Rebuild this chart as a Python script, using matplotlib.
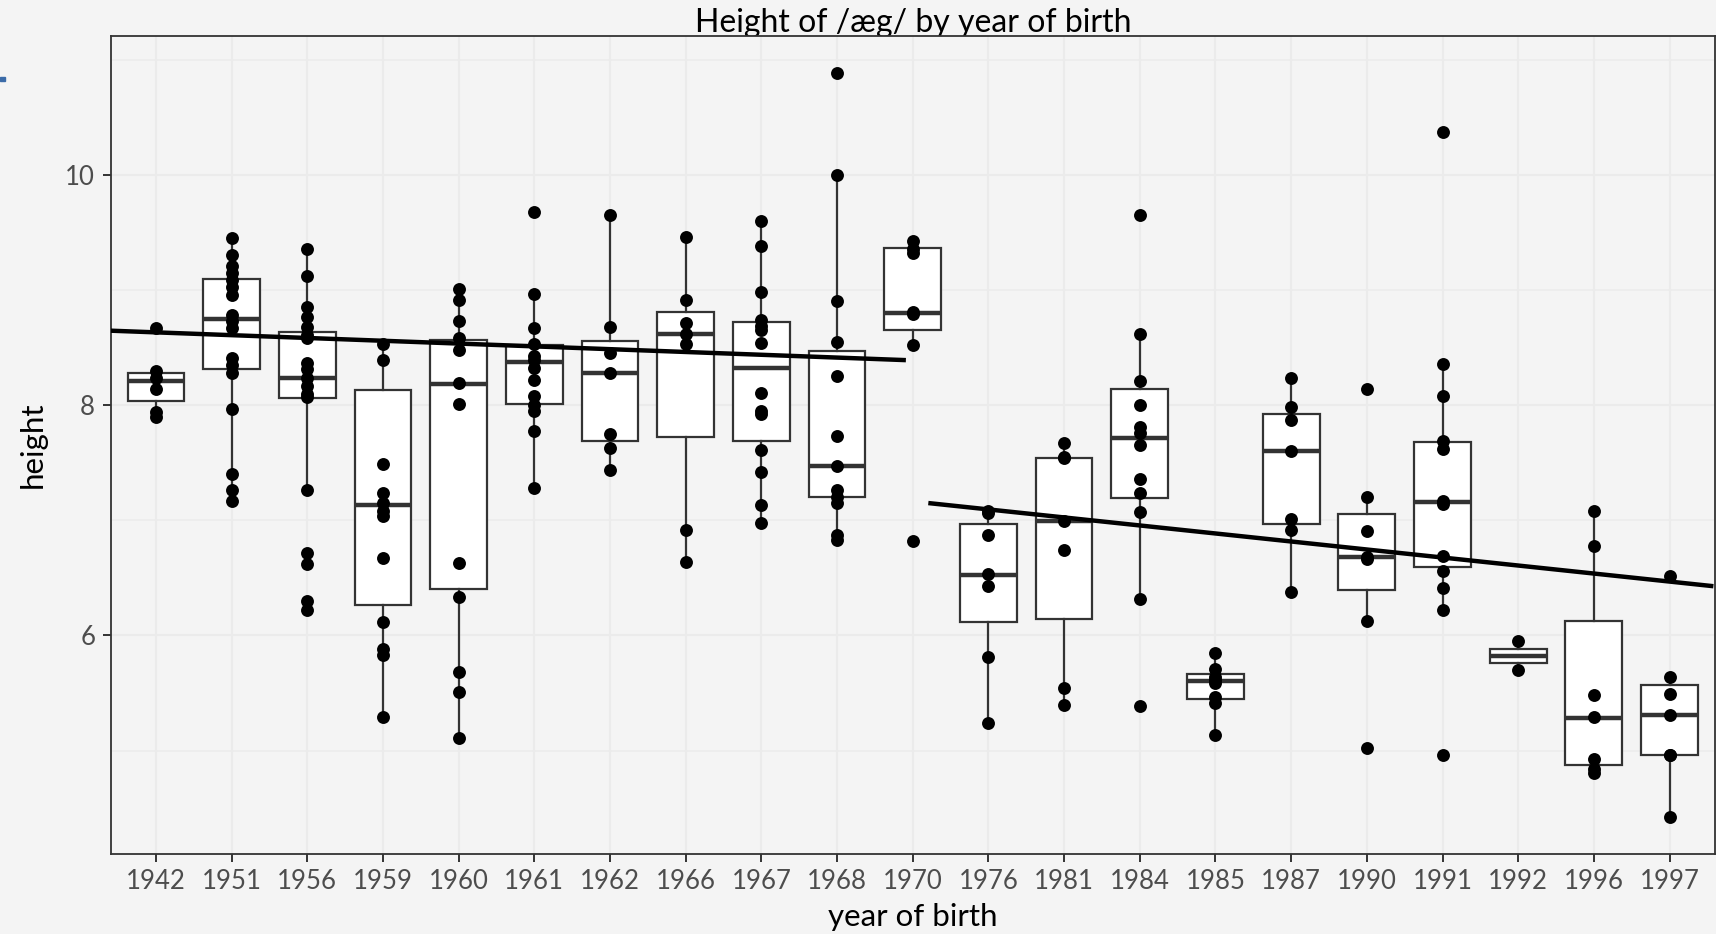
import matplotlib.pyplot as plt
from matplotlib.patches import Rectangle

plt.rcParams['font.family'] = ['Lato', 'DejaVu Sans']

# categories (x axis is discrete)
years = ["1942", "1951", "1956", "1959", "1960", "1961", "1962", "1966", "1967", "1968",
         "1970", "1976", "1981", "1984", "1985", "1987", "1990", "1991", "1992", "1996", "1997"]

# individual measurements per year of birth
h_1942 = [8.67, 8.30, 8.24, 8.14, 7.94, 7.90]
h_1951 = [9.45, 9.30, 9.21, 9.15, 9.09, 9.03, 8.96, 8.78, 8.73, 8.67, 8.41, 8.35, 8.28, 7.97, 7.40, 7.26, 7.17]
h_1956 = [9.36, 9.12, 8.85, 8.77, 8.68, 8.61, 8.58, 8.37, 8.31, 8.24, 8.17, 8.10, 8.07, 7.26, 6.72, 6.62, 6.30, 6.22]
h_1959 = [8.53, 8.39, 7.49, 7.24, 7.15, 7.08, 7.04, 6.67, 6.12, 5.88, 5.83, 5.29]
h_1960 = [9.01, 8.91, 8.73, 8.58, 8.48, 8.19, 8.01, 6.63, 6.33, 5.68, 5.51, 5.11]
h_1961 = [9.68, 8.965, 8.67, 8.53, 8.43, 8.39, 8.32, 8.22, 8.08, 8.00, 7.95, 7.78, 7.28]
h_1962 = [9.655, 8.68, 8.45, 8.28, 7.75, 7.63, 7.44]
h_1966 = [9.46, 8.91, 8.71, 8.62, 8.53, 6.92, 6.635]
h_1967 = [9.60, 9.38, 8.98, 8.74, 8.69, 8.65, 8.54, 8.11, 7.95, 7.92, 7.61, 7.42, 7.13, 6.975]
h_1968 = [10.886, 10.0, 8.906, 8.547, 8.25, 7.73, 7.47, 7.26, 7.20, 7.15, 6.875, 6.83]
h_1970 = [9.43, 9.36, 9.32, 8.81, 8.79, 8.52, 6.82]
h_1976 = [7.08, 7.06, 6.87, 6.53, 6.43, 5.81, 5.24]
h_1981 = [7.67, 7.55, 7.54, 6.99, 6.74, 5.54, 5.40]
h_1984 = [9.65, 8.62, 8.21, 8.00, 7.81, 7.76, 7.65, 7.36, 7.24, 7.07, 6.32, 5.39]
h_1985 = [5.85, 5.71, 5.64, 5.61, 5.59, 5.47, 5.41, 5.14]
h_1987 = [8.24, 7.98, 7.87, 7.60, 7.01, 6.92, 6.38]
h_1990 = [8.14, 7.20, 6.91, 6.68, 6.66, 6.13, 5.02]
h_1991 = [10.37, 8.36, 8.08, 7.69, 7.62, 7.17, 7.14, 6.69, 6.56, 6.41, 6.22, 4.96]
h_1992 = [5.95, 5.70]
h_1996 = [7.085, 6.78, 5.48, 5.29, 4.93, 4.84, 4.81]
h_1997 = [6.52, 5.64, 5.49, 5.31, 4.96, 4.96, 4.42]

heights = [h_1942, h_1951, h_1956, h_1959, h_1960, h_1961, h_1962, h_1966, h_1967, h_1968,
           h_1970, h_1976, h_1981, h_1984, h_1985, h_1987, h_1990, h_1991, h_1992, h_1996, h_1997]

# box statistics as shown
box_q1 = [8.04, 8.315, 8.065, 6.262, 6.408, 8.011, 7.69, 7.725, 7.69, 7.203,
          8.656, 6.117, 6.14, 7.193, 5.445, 6.967, 6.394, 6.594, 5.763, 4.877, 4.96]
box_med = [8.21, 8.747, 8.233, 7.134, 8.188, 8.374, 8.28, 8.62, 8.324, 7.47,
           8.80, 6.526, 6.99, 7.716, 5.604, 7.598, 6.68, 7.157, 5.826, 5.286, 5.31]
box_q3 = [8.28, 9.096, 8.638, 8.133, 8.565, 8.524, 8.56, 8.806, 8.724, 8.474,
          9.364, 6.966, 7.543, 8.143, 5.663, 7.92, 7.053, 7.68, 5.886, 6.126, 5.568]
whisker_lo = [7.90, 7.17, 7.26, 5.286, 5.11, 7.275, 7.443, 6.635, 6.975, 6.83,
              8.52, 5.24, 5.40, 6.32, 5.136, 6.376, 6.126, 6.217, 5.70, 4.81, 4.42]
whisker_hi = [8.28, 9.45, 9.37, 8.533, 9.01, 8.965, 9.655, 9.464, 9.60, 10.0,
              9.43, 7.08, 7.67, 8.624, 5.854, 8.24, 7.20, 8.36, 5.95, 7.085, 5.64]

# linear trends (x in category positions)
early_trend_x = [-0.6, 9.88]
early_trend_y = [8.647, 8.392]
late_trend_x = [10.235, 20.55]
late_trend_y = [7.148, 6.43]

bg = "#F4F4F4"
grid_col = "#EBEBEB"
dark = "#333333"

fig = plt.figure(figsize=(17.16, 9.34), dpi=100, facecolor=bg)
ax = fig.add_axes([0.0644, 0.0861, 0.9350, 0.8751])
ax.set_facecolor(bg)

# grid
ax.set_axisbelow(True)
ax.grid(which='major', color=grid_col, linewidth=1.5)
ax.grid(which='minor', axis='y', color=grid_col, linewidth=1.1)

# boxes
stats = []
for i in range(len(years)):
    stats.append(dict(q1=box_q1[i], med=box_med[i], q3=box_q3[i],
                      whislo=whisker_lo[i], whishi=whisker_hi[i]))
pos = list(range(len(years)))
ax.bxp(stats, positions=pos, widths=0.75, patch_artist=True,
       showfliers=False, showcaps=False,
       boxprops=dict(facecolor='white', edgecolor=dark, linewidth=1.6),
       whiskerprops=dict(color=dark, linewidth=1.6),
       medianprops=dict(color=dark, linewidth=3.2, solid_capstyle='butt'))

# points
for i, vals in enumerate(heights):
    ax.plot([i] * len(vals), vals, 'o', color='black', markersize=9.3,
            markeredgewidth=0, zorder=4)

# trend lines
ax.plot(early_trend_x, early_trend_y, color='black', linewidth=3.2, zorder=5)
ax.plot(late_trend_x, late_trend_y, color='black', linewidth=3.2, zorder=5)

ax.set_xlim(-0.6, 20.6)
ax.set_ylim(4.106, 11.204)
ax.set_xticks(pos)
ax.set_xticklabels(years)
ax.set_yticks([6, 8, 10])
ax.set_yticks([5, 7, 9, 11], minor=True)
ax.tick_params(axis='both', which='major', labelsize=18.5, labelcolor="#4D4D4D",
               color=dark, length=6, width=1.4, pad=5)
ax.tick_params(axis='y', which='minor', length=0)

for s in ax.spines.values():
    s.set_color(dark)
    s.set_linewidth(1.3)

ax.set_xlabel("year of birth", fontsize=22.5, color='black')
ax.set_ylabel("height", fontsize=22.5, color='black')
ax.xaxis.set_label_coords(0.5, -0.060)
ax.yaxis.set_label_coords(-0.040, 0.5)

fig.text(0.532, 0.966, "Height of /æg/ by year of birth", fontsize=23,
         ha='center', va='baseline', color='black', zorder=-1)

# small blue mark at the left edge of the screenshot
fig.patches.append(Rectangle((0, 1 - 81 / 934), 5 / 1716, 4 / 934,
                             transform=fig.transFigure, color="#3B6BA8"))

fig.savefig("out.png", dpi=100, facecolor=bg)
